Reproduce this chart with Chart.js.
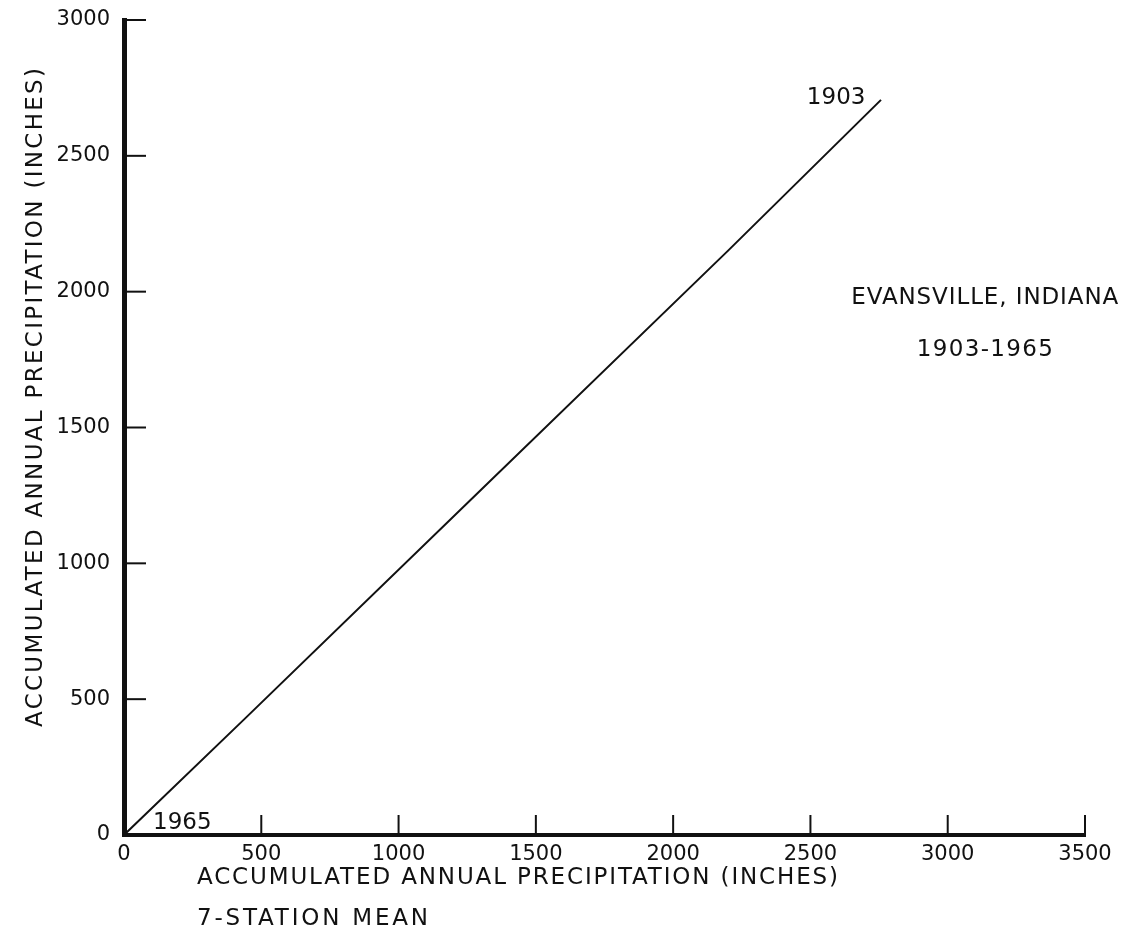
<!DOCTYPE html>
<html>
<head>
<meta charset="utf-8">
<script src="https://cdn.jsdelivr.net/npm/chart.js@4.4.1/dist/chart.umd.min.js"></script>
<style>
  body { margin: 0; background: #fff; }
  #wrap { width: 1122px; height: 933px; }
</style>
</head>
<body>
<div id="wrap"><canvas id="massCurve" width="1122" height="933"></canvas></div>
<script>
// Double mass curve, Evansville vs 7-station mean
const stationMean = [0, 446, 1262, 2202, 2757];      // x, inches
const evansville  = [0, 434, 1233, 2153, 2706];      // y, inches
const xTicks = [0, 500, 1000, 1500, 2000, 2500, 3000, 3500];
const yTicks = [0, 500, 1000, 1500, 2000, 2500, 3000];
const yearLabels = ['1965', '1903'];
const yearAt = [[106, 44], [2487, 2713]];              // data coords of year labels
const notes = ['EVANSVILLE, INDIANA', '1903-1965'];
const noteAt = [[3135, 1977], [3135, 1785]];
const xTitle = ['ACCUMULATED ANNUAL PRECIPITATION (INCHES)', '7-STATION MEAN'];
const yTitle = 'ACCUMULATED ANNUAL PRECIPITATION (INCHES)';

const FONT = '"DejaVu Sans", sans-serif';
const INK = '#111';

const points = stationMean.map((x, i) => ({ x: x, y: evansville[i] }));

// stretch text with letter spacing so it covers a given width
function spacedText(ctx, text, x, y, width) {
  ctx.letterSpacing = '0px';
  const w = ctx.measureText(text).width;
  ctx.letterSpacing = Math.max(0, (width - w) / (text.length - 1)) + 'px';
  ctx.fillText(text, x, y);
  ctx.letterSpacing = '0px';
}

// keep the plot box fixed, whatever the tick labels need
function fixBox(s, size) {
  if (s.isHorizontal()) s.height = size; else s.width = size;
  s.paddingTop = 0; s.paddingBottom = 0; s.paddingLeft = 0; s.paddingRight = 0;
}

const decorations = {
  id: 'decorations',
  afterDraw(chart) {
    const { ctx, scales: { x, y } } = chart;
    ctx.save();
    ctx.strokeStyle = INK;
    ctx.fillStyle = INK;

    // inward tick marks
    ctx.lineWidth = 2;
    xTicks.forEach(v => {
      if (v === 0) return;
      const px = x.getPixelForValue(v);
      ctx.beginPath();
      ctx.moveTo(px, y.bottom);
      ctx.lineTo(px, y.bottom - 20);
      ctx.stroke();
    });
    yTicks.forEach(v => {
      if (v === 0) return;
      const py = y.getPixelForValue(v);
      ctx.beginPath();
      ctx.moveTo(x.left, py);
      ctx.lineTo(x.left + 22, py);
      ctx.stroke();
    });

    // year labels on the curve
    ctx.font = '23px ' + FONT;
    ctx.textBaseline = 'middle';
    ctx.textAlign = 'left';
    yearLabels.forEach((t, i) => {
      ctx.fillText(t, x.getPixelForValue(yearAt[i][0]), y.getPixelForValue(yearAt[i][1]));
    });

    // station note
    ctx.font = '23px ' + FONT;
    const noteW = [267, 136];
    notes.forEach((t, i) => {
      const cx = x.getPixelForValue(noteAt[i][0]);
      spacedText(ctx, t, cx - noteW[i] / 2, y.getPixelForValue(noteAt[i][1]), noteW[i]);
    });

    // axis titles
    ctx.font = '23px ' + FONT;
    spacedText(ctx, xTitle[0], 197, 878, 641);
    spacedText(ctx, xTitle[1], 197, 919, 231);

    ctx.translate(36, 727);
    ctx.rotate(-Math.PI / 2);
    spacedText(ctx, yTitle, 0, 0, 659);
    ctx.restore();
  }
};

new Chart(document.getElementById('massCurve'), {
  type: 'scatter',
  data: {
    datasets: [{
      data: points,
      showLine: true,
      borderColor: INK,
      borderWidth: 2,
      pointRadius: 0,
      tension: 0,
    }],
  },
  options: {
    responsive: false,
    animation: false,
    layout: { padding: { top: 20, right: 37, left: 0, bottom: 0 } },
    plugins: { legend: { display: false }, tooltip: { enabled: false } },
    scales: {
      x: {
        type: 'linear', min: 0, max: 3500,
        afterFit: s => fixBox(s, 98),
        afterBuildTicks: s => { s.ticks = xTicks.map(v => ({ value: v })); },
        ticks: { color: INK, padding: 7, font: { family: FONT, size: 21 }, callback: v => String(v) },
        grid: { drawOnChartArea: false, drawTicks: false },
        border: { color: INK, width: 4 },
      },
      y: {
        type: 'linear', min: 0, max: 3000,
        afterFit: s => fixBox(s, 124),
        afterBuildTicks: s => { s.ticks = yTicks.map(v => ({ value: v })); },
        ticks: { color: INK, padding: 14, font: { family: FONT, size: 21 }, callback: v => String(v) },
        grid: { drawOnChartArea: false, drawTicks: false },
        border: { color: INK, width: 5 },
      },
    },
  },
  plugins: [decorations],
});
</script>
</body>
</html>
